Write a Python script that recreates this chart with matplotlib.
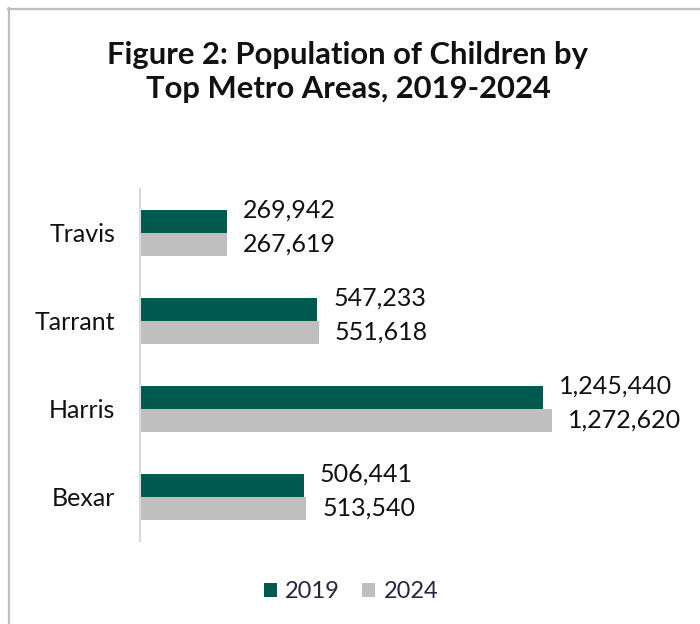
import matplotlib
matplotlib.use("Agg")
import matplotlib.pyplot as plt
from matplotlib.lines import Line2D
from matplotlib.patches import Patch

plt.rcParams['font.family'] = ['Lato', 'DejaVu Sans']

categories = ["Travis", "Tarrant", "Harris", "Bexar"]
years = ["2019", "2024"]
values_2019 = [269942, 547233, 1245440, 506441]
values_2024 = [267619, 551618, 1272620, 513540]
colors = ["#005A50", "#BFBFBF"]

W, H = 700, 624
fig = plt.figure(figsize=(W / 100, H / 100), dpi=100)

# frame lines along the top and left edges
fig.add_artist(Line2D([8 / W, 1], [1 - 8.5 / H, 1 - 8.5 / H], color="#BFBFBF", lw=1.6,
                      transform=fig.transFigure))
fig.add_artist(Line2D([8.5 / W, 8.5 / W], [0, 1 - 8 / H], color="#BFBFBF", lw=1.6,
                      transform=fig.transFigure))

fig.text(0.497, 1 - 72 / H, "Figure 2: Population of Children by\nTop Metro Areas, 2019-2024",
         ha="center", va="center", fontsize=22.3, fontweight="bold", color="#111111",
         linespacing=1.22)

ax = fig.add_axes([140 / W, 1 - 541 / H, 518 / W, 352 / H])
n = len(categories)
ypos = [n - 1 - i for i in range(n)]
h = 0.26
ax.barh([y + h / 2 for y in ypos], values_2019, height=h, color=colors[0])
ax.barh([y - h / 2 for y in ypos], values_2024, height=h, color=colors[1])

for y, v in zip(ypos, values_2019):
    ax.annotate(f"{v:,}", (v, y + h / 2), xytext=(11.5, 8), textcoords="offset points",
                ha="left", va="center", fontsize=18, color="#111111")
for y, v in zip(ypos, values_2024):
    ax.annotate(f"{v:,}", (v, y - h / 2), xytext=(11.5, 0), textcoords="offset points",
                ha="left", va="center", fontsize=18, color="#111111")

ax.set_xlim(0, 1600000)
ax.set_ylim(-0.5, n - 0.5)
ax.set_yticks(ypos)
ax.set_yticklabels(categories, fontsize=18, color="#111111")
ax.tick_params(axis="y", length=0, pad=18)
ax.set_xticks([])
for s in ["top", "right", "bottom"]:
    ax.spines[s].set_visible(False)
ax.spines["left"].set_color("#D9D9D9")
ax.spines["left"].set_linewidth(1.5)

handles = [Patch(facecolor=c, edgecolor="none") for c in colors]
fig.legend(handles, years, loc="center", bbox_to_anchor=(351 / W, 1 - 592 / H), ncol=2,
           frameon=False, fontsize=17, handlelength=0.55, handleheight=0.55,
           handletextpad=0.35, columnspacing=0.95, labelcolor="#262640")

fig.savefig("out.png", dpi=100)
